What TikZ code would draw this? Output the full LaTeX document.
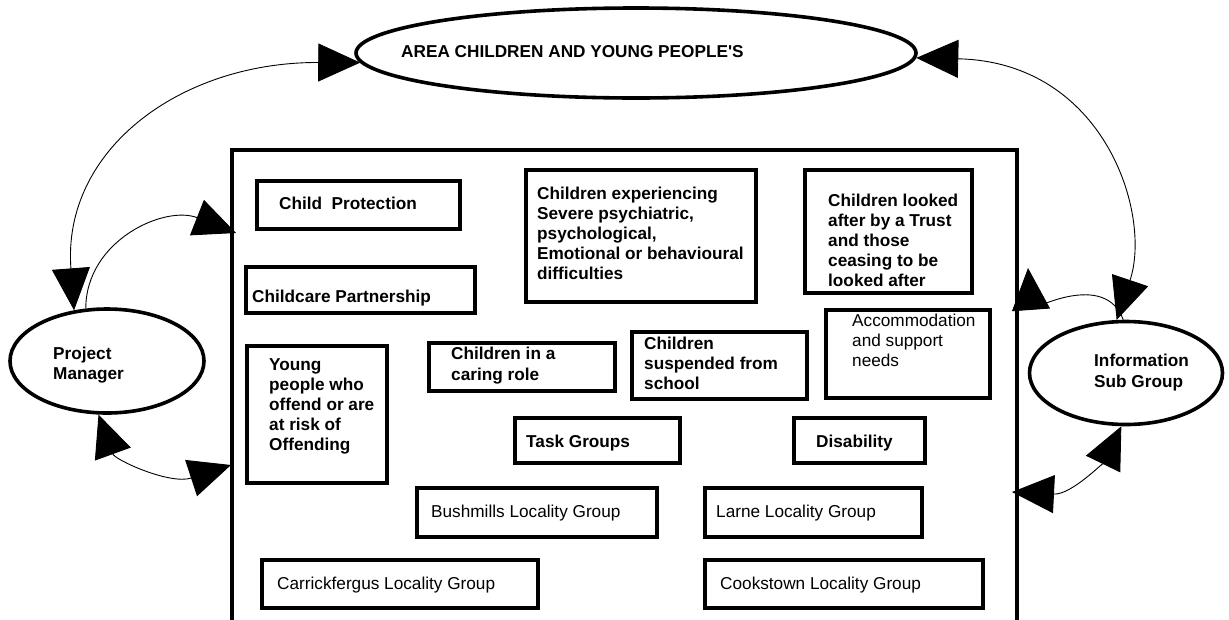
\documentclass[tikz,border=0pt]{standalone}
\usepackage{fontspec}
\setmainfont{Liberation Sans}
\usetikzlibrary{arrows.meta,fit,shapes.geometric}
\begin{document}
\begin{tikzpicture}[x=1pt,y=-1pt,
  box/.style={draw, rectangle, line width=3.4pt, inner sep=0pt},
  oval/.style={draw, ellipse, line width=3.6pt, inner sep=0pt},
  lbl/.style={inner sep=0pt, anchor=north west, align=left, font=\fontsize{17.2}{20}\selectfont\bfseries},
  lblr/.style={lbl, font=\fontsize{17.2}{20}\selectfont\mdseries},
  tipbig/.tip={Triangle[length=42pt,width=38pt]},
  conn/.style={line width=0.9pt, tipbig-tipbig},
  connone/.style={line width=0.9pt, -tipbig}]
\path[use as bounding box, fill=white] (0,0) rectangle (1229,619);

% ovals
\node[oval, minimum width=560pt, minimum height=90pt] (area) at (636,53) {};
\node[oval, minimum width=194pt, minimum height=104pt] (pm) at (107,361) {};
\node[oval, minimum width=193pt, minimum height=103pt] (info) at (1126,373) {};
\node[lbl] (tarea) at (401,45.7) {AREA CHILDREN AND YOUNG PEOPLE\textquotesingle S};
\node[lbl] (tpm) at (53,346.7) {Project\\Manager};
\node[lbl, font=\fontsize{17.2}{21}\selectfont\bfseries] (tinfo) at (1094,353.7) {Information\\Sub Group};

% big frame (its bottom edge falls at the lower border of the picture)
\node[draw, rectangle, line width=3.2pt, inner sep=0pt, fit={(232,150) (1017,621.2)}] (big) {};

% inner boxes
\node[box, fit={(257,181) (460,229)}] (cp) {};
\node[box, fit={(246,267) (475,313)}] (ccp) {};
\node[box, fit={(526,170) (756,302)}] (exp) {};
\node[box, fit={(805,170) (972,293)}] (lac) {};
\node[box, fit={(826,310) (990,398)}] (acc) {};
\node[box, fit={(632,332) (807,399)}] (sus) {};
\node[box, fit={(429,343) (615,391)}] (car) {};
\node[box, fit={(247,346) (387,483)}] (yp) {};
\node[box, fit={(515,418) (680,463)}] (task) {};
\node[box, fit={(794,418) (925,463)}] (dis) {};
\node[box, fit={(417,488) (657,537)}] (bush) {};
\node[box, fit={(705,488) (922,537)}] (larne) {};
\node[box, fit={(262,560) (538,608)}] (carr) {};
\node[box, fit={(705,560) (983,608)}] (cook) {};

% labels
\node[lbl] (tcp) at (279,196.7) {Child\ \ Protection};
\node[lbl] (tccp) at (252,289.7) {Childcare Partnership};
\node[lbl] (texp) at (537,186.7) {Children experiencing\\Severe psychiatric,\\psychological,\\Emotional or behavioural\\difficulties};
\node[lbl] (tlac) at (828,193.7) {Children looked\\after by a Trust\\and those\\ceasing to be\\looked after};
\node[lblr] (tacc) at (852,313.7) {Accommodation\\and support\\needs};
\node[lbl] (tsus) at (644,336.7) {Children\\suspended from\\school};
\node[lbl, font=\fontsize{17.2}{21}\selectfont\bfseries] (tcar) at (451,346.7) {Children in a\\caring role};
\node[lbl] (typ) at (269,358.7) {Young\\people who\\offend or are\\at risk of\\Offending};
\node[lbl] (ttask) at (526,434.7) {Task Groups};
\node[lbl] (tdis) at (816,434.7) {Disability};
\node[lblr] (tbush) at (431,504.7) {Bushmills Locality Group};
\node[lblr] (tlarne) at (716,504.7) {Larne Locality Group};
\node[lblr] (tcarr) at (277,576.7) {Carrickfergus Locality Group};
\node[lblr] (tcook) at (720,576.7) {Cookstown Locality Group};

% connector end points on the frame
\coordinate (bL1) at (236,233);
\coordinate (bL2) at (231,465);
\coordinate (bR1) at (1028,268);
\coordinate (bR2) at (1012,492);

% connectors
\draw[conn] (area.182) .. controls (180,62) and (62,150) .. (pm.123);
\draw[connone] (pm.112) .. controls (86,240) and (165,205) .. (bL1);
\draw[conn] (pm.261) .. controls (115,460) and (170,485) .. (bL2);
\draw[conn] (area.359) .. controls (1105,62) and (1152,215) .. (info.100);
\draw[connone] (info.93) .. controls (1105,270) and (1031,310) .. (bR1);
\draw[conn] (info.265) .. controls (1105,460) and (1072,495) .. (bR2);
\end{tikzpicture}
\end{document}
